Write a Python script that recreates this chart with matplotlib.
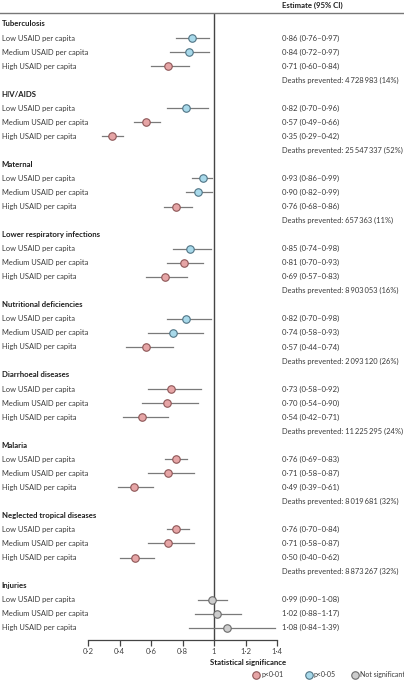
import numpy as np
import matplotlib
matplotlib.use("Agg")
import matplotlib.pyplot as plt
from matplotlib.lines import Line2D
import matplotlib.transforms as mtransforms

plt.rcParams['font.family'] = ['Lato', 'DejaVu Sans']

causes = ["Tuberculosis", "HIV/AIDS", "Maternal", "Lower respiratory infections",
          "Nutritional deficiencies", "Diarrhoeal diseases", "Malaria",
          "Neglected tropical diseases", "Injuries"]
groups = ["Low USAID per capita", "Medium USAID per capita", "High USAID per capita"]

est = [[0.86, 0.84, 0.71], [0.82, 0.57, 0.35], [0.93, 0.90, 0.76],
       [0.85, 0.81, 0.69], [0.82, 0.74, 0.57], [0.73, 0.70, 0.54],
       [0.76, 0.71, 0.49], [0.76, 0.71, 0.50], [0.99, 1.02, 1.08]]
lo = [[0.76, 0.72, 0.60], [0.70, 0.49, 0.29], [0.86, 0.82, 0.68],
      [0.74, 0.70, 0.57], [0.70, 0.58, 0.44], [0.58, 0.54, 0.42],
      [0.69, 0.58, 0.39], [0.70, 0.58, 0.40], [0.90, 0.88, 0.84]]
hi = [[0.97, 0.97, 0.84], [0.96, 0.66, 0.42], [0.99, 0.99, 0.86],
      [0.98, 0.93, 0.83], [0.98, 0.93, 0.74], [0.92, 0.90, 0.71],
      [0.83, 0.87, 0.61], [0.84, 0.87, 0.62], [1.08, 1.17, 1.39]]
# significance: 1 = p<0.01, 2 = p<0.05, 0 = not significant
sig = [[2, 2, 1], [2, 1, 1], [2, 2, 1], [2, 1, 1], [2, 2, 1],
       [1, 1, 1], [1, 1, 1], [1, 1, 1], [0, 0, 0]]
deaths = ["4\u2009728\u2009983 (14%)", "25\u2009547\u2009337 (52%)", "657\u2009363 (11%)",
          "8\u2009903\u2009053 (16%)", "2\u2009093\u2009120 (26%)", "11\u2009225\u2009295 (24%)",
          "8\u2009019\u2009681 (32%)", "8\u2009873\u2009267 (32%)", None]

xticks = [0.2, 0.4, 0.6, 0.8, 1.0, 1.2, 1.4]
xticklabels = ["0·2", "0·4", "0·6", "0·8", "1", "1·2", "1·4"]

fills = {1: "#e6a5a6", 2: "#a8d9ea", 0: "#cdcdcd"}
edges = {1: "#8c5556", 2: "#4f7384", 0: "#6a6a6a"}
sig_labels = {1: "p<0·01", 2: "p<0·05", 0: "Not significant"}


def fmt(v):
    return f"{v:.2f}".replace(".", "·")


W, H = 404, 680
fig = plt.figure(figsize=(W / 100, H / 100), dpi=100)
ax = fig.add_axes([88 / W, 1 - 640 / H, 189 / W, 627 / H])

row_h = 14.04
ax.set_xlim(0.2, 1.4)
ax.set_ylim((640 - 24) / row_h, (13 - 24) / row_h)

trans_lbl = mtransforms.blended_transform_factory(fig.transFigure, ax.transData)
x_lab = 1.5 / W
x_est = 282 / W
fs = 5.4
txt = "#3a3a3a"

row = 0
for c, cause in enumerate(causes):
    ax.text(x_lab, row, cause, transform=trans_lbl, fontsize=fs + 0.2, fontweight="bold",
            va="center", ha="left", color="#1e1e1e")
    row += 1
    for g in range(3):
        ax.plot([lo[c][g], hi[c][g]], [row, row], color="#7a7a7a", lw=0.9, zorder=2)
        ax.plot(est[c][g], row, "o", ms=5.4, mfc=fills[sig[c][g]],
                mec=edges[sig[c][g]], mew=0.8, zorder=3)
        ax.text(x_lab, row, groups[g], transform=trans_lbl, fontsize=fs,
                va="center", ha="left", color=txt)
        ax.text(x_est, row, f"{fmt(est[c][g])} ({fmt(lo[c][g])}–{fmt(hi[c][g])})",
                transform=trans_lbl, fontsize=fs + 0.2, va="center", ha="left", color=txt)
        row += 1
    if deaths[c] is not None:
        ax.text(x_est, row, "Deaths prevented: " + deaths[c], transform=trans_lbl,
                fontsize=fs, va="center", ha="left", color=txt)
        row += 1

ax.axvline(1.0, color="#444444", lw=1.0, zorder=1)

for s in ["top", "right", "left"]:
    ax.spines[s].set_visible(False)
ax.spines["bottom"].set_color("#444444")
ax.spines["bottom"].set_linewidth(0.9)
ax.set_yticks([])
ax.set_xticks(xticks)
ax.set_xticklabels(xticklabels, fontsize=fs + 0.2, color="#444444")
ax.tick_params(axis="x", length=4, width=0.9, color="#444444", pad=2)

# top rule and column header
fig.add_artist(Line2D([0, 1], [1 - 13 / H, 1 - 13 / H], color="#777777", lw=1.0))
fig.text(x_est, 1 - 5 / H, "Estimate (95% CI)", fontsize=fs + 0.2, fontweight="bold",
         va="center", ha="left", color="#1e1e1e")

# legend
fig.text(248 / W, 1 - 662 / H, "Statistical significance", fontsize=fs + 0.2,
         fontweight="bold", ha="center", va="center", color="#1e1e1e")
leg_x = [256, 309, 355]
for k, s in enumerate([1, 2, 0]):
    fig.add_artist(Line2D([leg_x[k] / W], [1 - 675 / H], marker="o", ms=5.4,
                          mfc=fills[s], mec=edges[s], mew=0.8, ls="none"))
    fig.text((leg_x[k] + 5) / W, 1 - 675 / H, sig_labels[s], fontsize=5.0,
             ha="left", va="center", color=txt)

fig.savefig("out.png", dpi=100)
